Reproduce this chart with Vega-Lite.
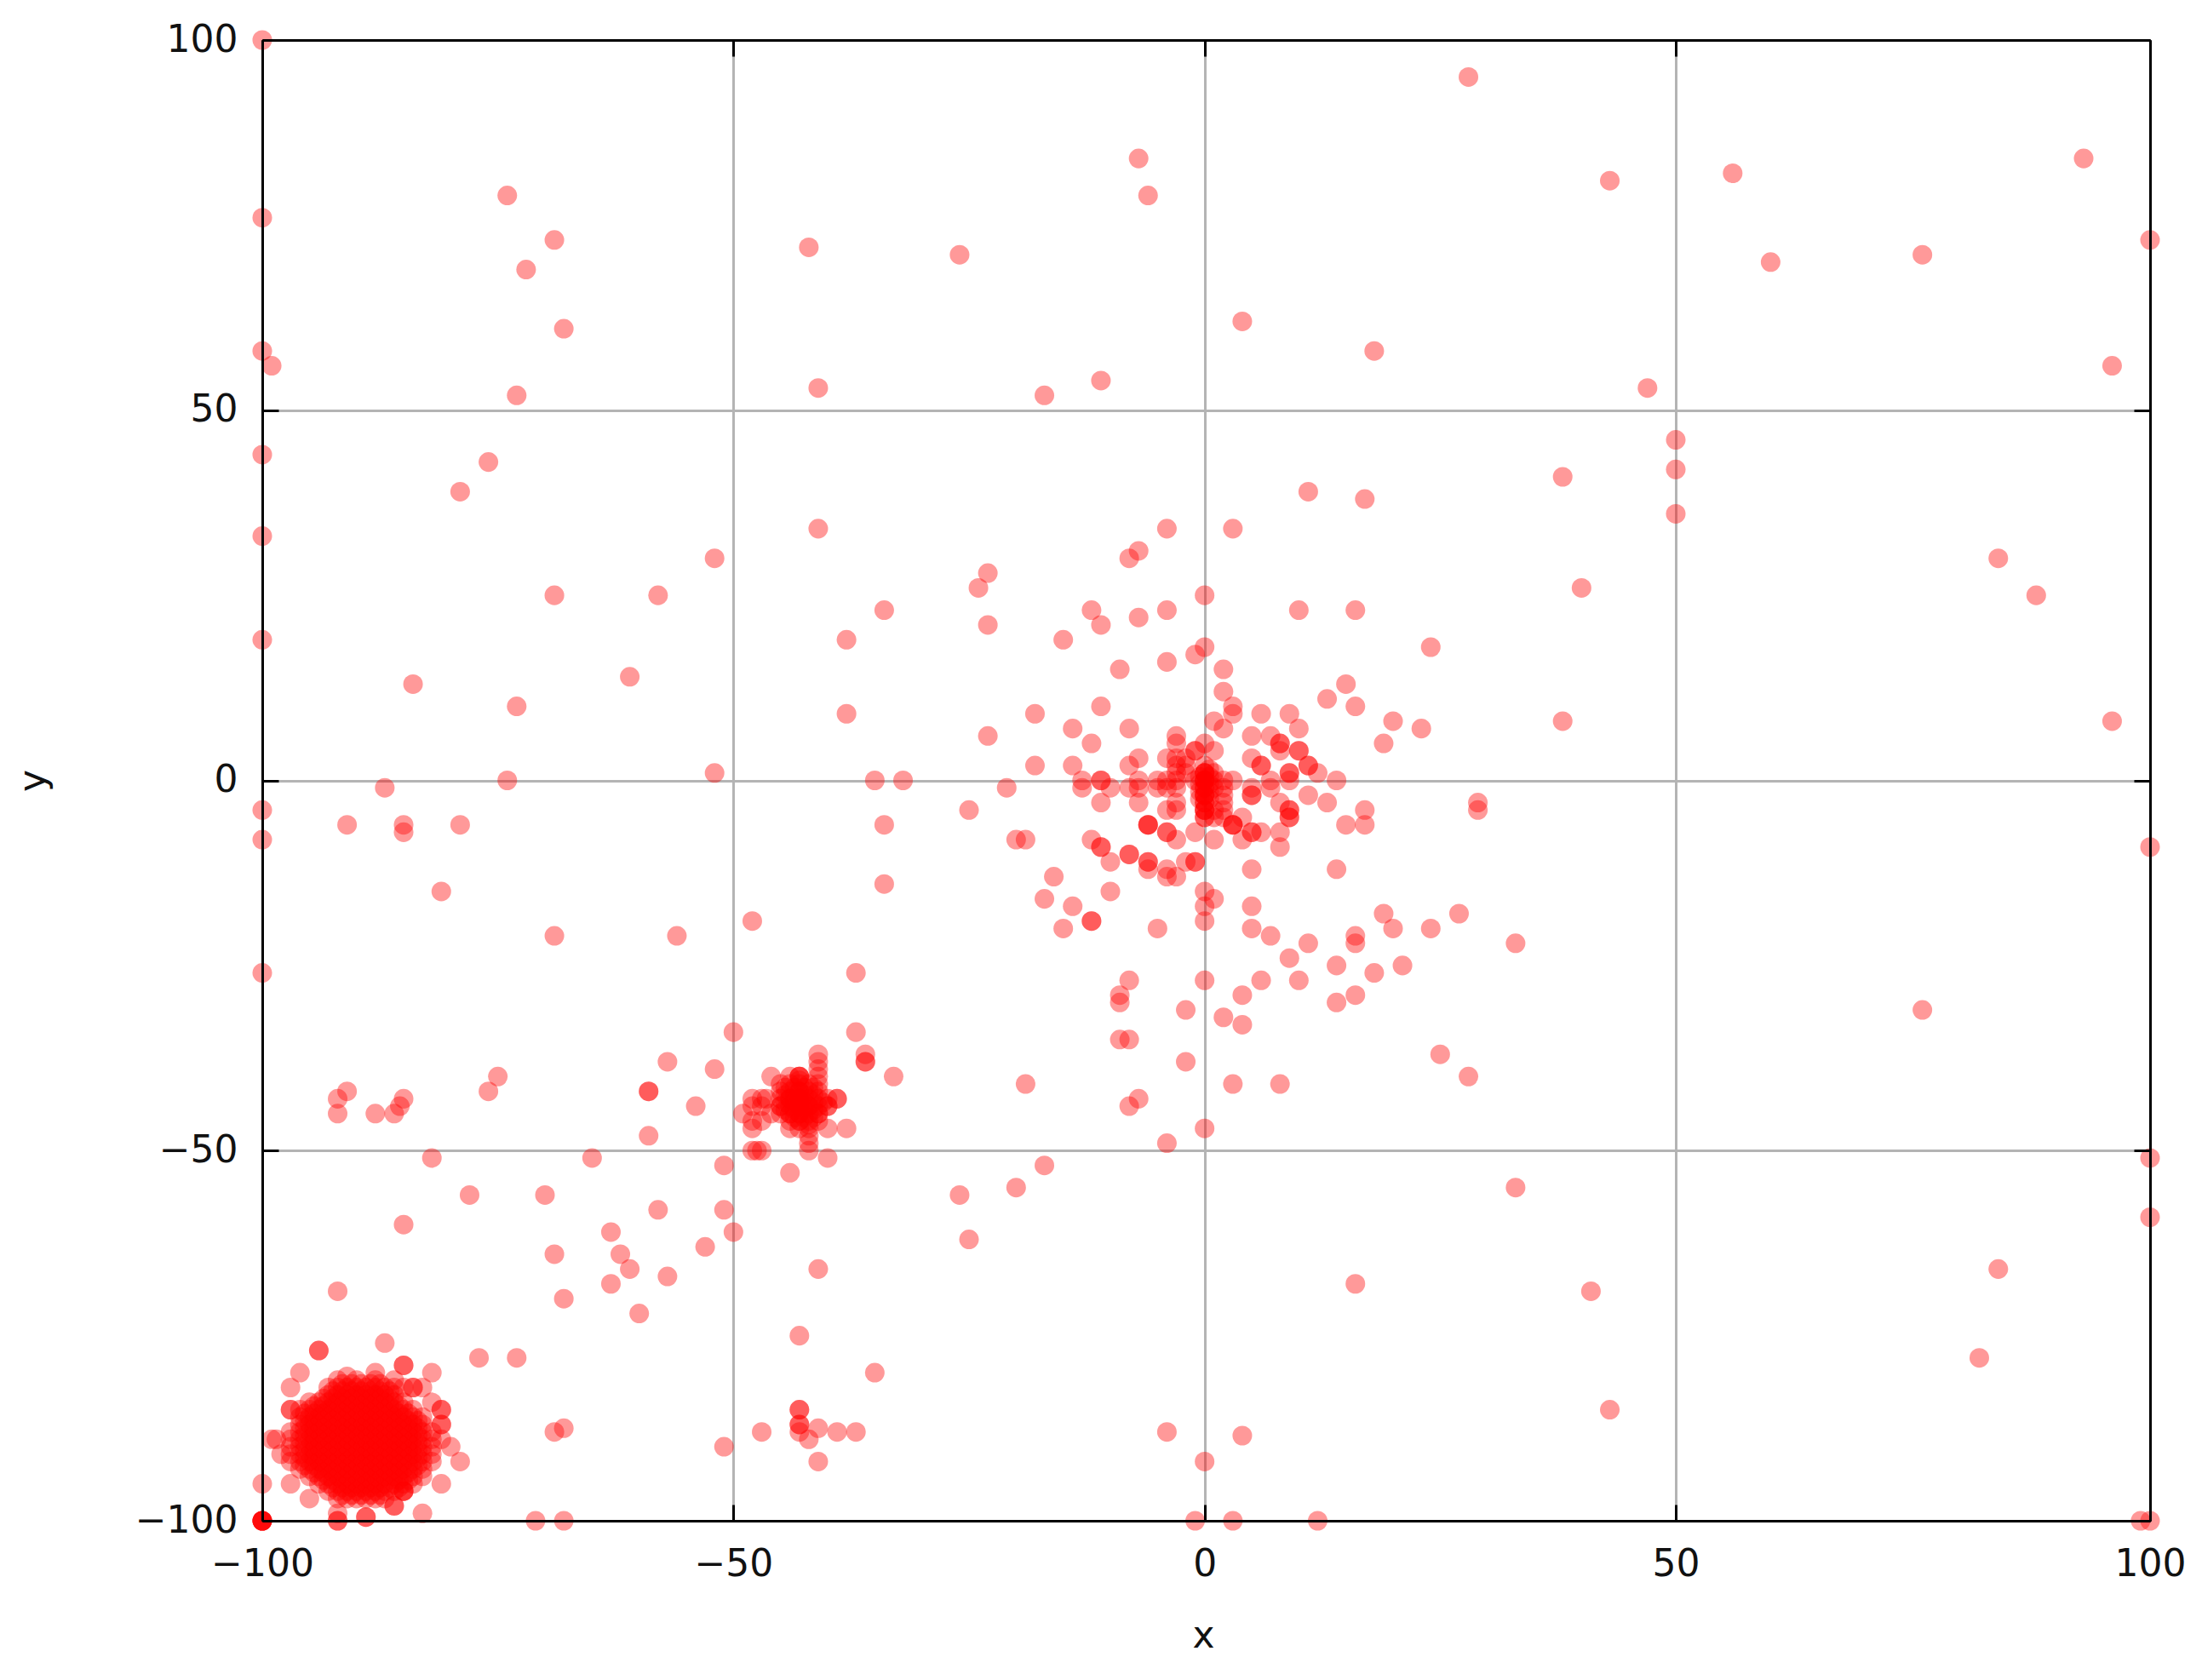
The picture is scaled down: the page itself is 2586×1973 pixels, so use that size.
{"$schema":"https://vega.github.io/schema/vega-lite/v6.json","autosize":{"type":"none"},"padding":{"left":308,"top":47,"right":61,"bottom":187},"width":2217,"height":1739,"background":"white","config":{"view":{"stroke":null},"axis":{"labelFont":"DejaVu Sans","titleFont":"DejaVu Sans","labelFontSize":44,"titleFontSize":44,"titleFontWeight":"normal","labelColor":"#111111","titleColor":"#111111"}},"datasets":{"pts":[
{"x":-100,"y":100},{"x":-100,"y":76},{"x":-100,"y":58},{"x":-99,"y":56},{"x":-100,"y":44},{"x":-100,"y":33},{"x":-100,"y":19},{"x":-100,"y":-4},{"x":-100,"y":-8},{"x":-100,"y":-26},{"x":-100,"y":-95},{"x":28,"y":95},{"x":-7,"y":84},{"x":-6,"y":79},{"x":43,"y":81},{"x":56,"y":82},{"x":93,"y":84},{"x":-74,"y":79},{"x":-69,"y":73},{"x":-72,"y":69},{"x":-42,"y":72},{"x":-26,"y":71},{"x":60,"y":70},{"x":76,"y":71},{"x":100,"y":73},{"x":-68,"y":61},{"x":4,"y":62},{"x":18,"y":58},{"x":96,"y":56},{"x":-73,"y":52},{"x":-41,"y":53},{"x":-17,"y":52},{"x":-11,"y":54},{"x":47,"y":53},{"x":50,"y":46},{"x":50,"y":42},{"x":50,"y":36},{"x":-76,"y":43},{"x":-79,"y":39},{"x":38,"y":41},{"x":11,"y":39},{"x":17,"y":38},{"x":-41,"y":34},{"x":-4,"y":34},{"x":3,"y":34},{"x":-8,"y":30},{"x":-7,"y":31},{"x":-52,"y":30},{"x":84,"y":30},{"x":88,"y":25},{"x":40,"y":26},{"x":-69,"y":25},{"x":-58,"y":25},{"x":-24,"y":26},{"x":-23,"y":28},{"x":0,"y":25},{"x":-12,"y":23},{"x":-11,"y":21},{"x":-7,"y":22},{"x":-4,"y":23},{"x":10,"y":23},{"x":16,"y":23},{"x":-34,"y":23},{"x":-23,"y":21},{"x":-38,"y":19},{"x":-15,"y":19},{"x":24,"y":18},{"x":-61,"y":14},{"x":-84,"y":13},{"x":-73,"y":10},{"x":-38,"y":9},{"x":38,"y":8},{"x":96,"y":8},
{"x":-9,"y":15},{"x":-4,"y":16},{"x":-1,"y":17},{"x":0,"y":18},{"x":2,"y":15},{"x":2,"y":12},{"x":3,"y":10},{"x":3,"y":9},{"x":1,"y":8},{"x":2,"y":7},{"x":-11,"y":10},{"x":6,"y":9},{"x":9,"y":9},{"x":5,"y":6},{"x":7,"y":6},{"x":8,"y":5},{"x":8,"y":5},{"x":8,"y":4},{"x":10,"y":7},{"x":10,"y":4},{"x":10,"y":4},{"x":11,"y":2},{"x":11,"y":2},{"x":12,"y":1},{"x":14,"y":0},{"x":13,"y":11},{"x":15,"y":13},{"x":16,"y":10},{"x":20,"y":8},{"x":19,"y":5},{"x":23,"y":7},{"x":-14,"y":7},{"x":-8,"y":7},{"x":-12,"y":5},{"x":-3,"y":6},{"x":-3,"y":5},{"x":-1,"y":4},{"x":-1,"y":4},{"x":0,"y":5},{"x":1,"y":4},{"x":5,"y":3},{"x":6,"y":2},{"x":6,"y":2},{"x":-14,"y":2},{"x":-7,"y":3},{"x":-8,"y":2},{"x":-4,"y":3},{"x":-3,"y":3},{"x":-3,"y":2},{"x":-2,"y":2},{"x":-13,"y":0},{"x":-11,"y":0},{"x":-11,"y":0},{"x":-10,"y":-1},{"x":-8,"y":-1},{"x":-7,"y":-1},{"x":-7,"y":0},{"x":-5,"y":0},{"x":-5,"y":-1},{"x":-4,"y":0},{"x":-3,"y":0},{"x":-3,"y":-1},{"x":0,"y":2},{"x":0,"y":1},{"x":0,"y":1},{"x":0,"y":0},{"x":0,"y":0},{"x":0,"y":0},{"x":0,"y":-1},{"x":0,"y":-1},{"x":0,"y":-2},{"x":0,"y":-2},{"x":0,"y":-3},{"x":0,"y":-4},{"x":0,"y":-4},{"x":1,"y":1},{"x":2,"y":0},{"x":2,"y":-1},{"x":3,"y":0},{"x":5,"y":-1},{"x":5,"y":-2},{"x":5,"y":-2},{"x":7,"y":0},{"x":7,"y":-1},{"x":9,"y":0},{"x":9,"y":1},{"x":9,"y":1},{"x":8,"y":-3},{"x":9,"y":-4},{"x":9,"y":-4},{"x":9,"y":-5},{"x":11,"y":-2},{"x":13,"y":-3},{"x":17,"y":-4},{"x":17,"y":-6},{"x":15,"y":-6},{"x":-11,"y":-3},{"x":-7,"y":-3},{"x":-3,"y":-3},{"x":-3,"y":-4},{"x":-4,"y":-4},{"x":-6,"y":-6},{"x":-6,"y":-6},{"x":-6,"y":-6},{"x":-4,"y":-7},{"x":-4,"y":-7},{"x":-3,"y":-8},{"x":-1,"y":-7},{"x":0,"y":-5},{"x":0,"y":-4},{"x":1,"y":-5},{"x":2,"y":-4},{"x":2,"y":-5},{"x":3,"y":-6},{"x":3,"y":-6},{"x":3,"y":-6},{"x":4,"y":-5},{"x":4,"y":-8},{"x":1,"y":-8},{"x":5,"y":-7},{"x":5,"y":-7},{"x":6,"y":-7},{"x":8,"y":-7},{"x":8,"y":-9},{"x":9,"y":-5},{"x":-12,"y":-8},{"x":-11,"y":-9},{"x":-11,"y":-9},{"x":-10,"y":-11},{"x":-8,"y":-10},{"x":-8,"y":-10},{"x":-6,"y":-11},{"x":-6,"y":-11},{"x":-6,"y":-12},{"x":-4,"y":-12},{"x":-3,"y":-13},{"x":-4,"y":-13},{"x":-2,"y":-11},{"x":-1,"y":-11},{"x":-1,"y":-11},{"x":5,"y":-12},{"x":14,"y":-12},{"x":-10,"y":-15},{"x":-14,"y":-17},{"x":-12,"y":-19},{"x":-12,"y":-19},{"x":-15,"y":-20},{"x":-5,"y":-20},{"x":0,"y":-15},{"x":1,"y":-16},{"x":0,"y":-17},{"x":0,"y":-19},{"x":5,"y":-17},{"x":5,"y":-20},{"x":7,"y":-21},{"x":16,"y":-21},{"x":16,"y":-22},{"x":19,"y":-18},{"x":20,"y":-20},{"x":24,"y":-20},{"x":11,"y":-22},
{"x":0.5,"y":1.5},{"x":-0.5,"y":0.5},{"x":0.5,"y":0.5},{"x":-0.5,"y":-0.5},{"x":0.5,"y":-0.5},{"x":-0.5,"y":-1.5},{"x":0.5,"y":-1.5},{"x":-0.5,"y":-2.5},{"x":0.5,"y":-2.5},{"x":0,"y":-3},{"x":0,"y":-5},{"x":0,"y":1},{"x":0,"y":-2},{"x":-3,"y":1},{"x":-2,"y":1},{"x":-4,"y":-1},{"x":1,"y":0},{"x":1,"y":-1},{"x":2,"y":-2},{"x":2,"y":-3},{"x":1,"y":-4},{"x":-2,"y":3},{"x":-1,"y":0},
{"x":-17,"y":-16},{"x":-16,"y":-13},{"x":-25,"y":-4},{"x":-23,"y":6},{"x":-21,"y":-1},{"x":-20,"y":-8},{"x":-19,"y":-8},{"x":-18,"y":9},{"x":-18,"y":2},{"x":-13,"y":-1},
{"x":27,"y":-18},{"x":33,"y":-22},{"x":21,"y":-25},{"x":18,"y":-26},{"x":14,"y":-25},{"x":16,"y":-29},{"x":14,"y":-30},{"x":10,"y":-27},{"x":9,"y":-24},{"x":6,"y":-27},{"x":4,"y":-29},{"x":4,"y":-33},{"x":2,"y":-32},{"x":0,"y":-27},{"x":-2,"y":-31},{"x":-8,"y":-27},{"x":-9,"y":-29},{"x":-9,"y":-30},{"x":-9,"y":-35},{"x":-8,"y":-35},{"x":-2,"y":-38},{"x":3,"y":-41},{"x":8,"y":-41},{"x":25,"y":-37},{"x":28,"y":-40},{"x":-7,"y":-43},{"x":-8,"y":-44},{"x":0,"y":-47},{"x":-4,"y":-49},{"x":-19,"y":-41},{"x":-17,"y":-52},{"x":-20,"y":-55},{"x":-26,"y":-56},{"x":-25,"y":-62},{"x":33,"y":-55},{"x":16,"y":-68},{"x":41,"y":-69},{"x":84,"y":-66},{"x":82,"y":-78},{"x":43,"y":-85},{"x":76,"y":-31},{"x":-4,"y":-88},{"x":4,"y":-88.5},{"x":0,"y":-92},{"x":-1,"y":-100},{"x":3,"y":-100},{"x":12,"y":-100},{"x":99,"y":-100},{"x":100,"y":-100},{"x":100,"y":-51},{"x":100,"y":-59},{"x":100,"y":-9},{"x":29,"y":-3},{"x":29,"y":-4},
{"x":-87,"y":-1},{"x":-91,"y":-6},{"x":-85,"y":-6},{"x":-85,"y":-7},{"x":-79,"y":-6},{"x":-81,"y":-15},{"x":-74,"y":0},{"x":-69,"y":-21},{"x":-52,"y":1},{"x":-35,"y":0},{"x":-32,"y":0},{"x":-34,"y":-6},{"x":-34,"y":-14},{"x":-56,"y":-21},{"x":-48,"y":-19},{"x":-37,"y":-26},{"x":-50,"y":-34},{"x":-37,"y":-34},{"x":-57,"y":-38},{"x":-52,"y":-39},{"x":-54,"y":-44},{"x":-59,"y":-42},{"x":-59,"y":-42},{"x":-59,"y":-48},{"x":-51,"y":-52},{"x":-51,"y":-58},{"x":-50,"y":-61},{"x":-53,"y":-63},{"x":-58,"y":-58},{"x":-57,"y":-67},{"x":-61,"y":-66},{"x":-62,"y":-64},{"x":-63,"y":-61},{"x":-63,"y":-68},{"x":-60,"y":-72},{"x":-65,"y":-51},{"x":-70,"y":-56},{"x":-78,"y":-56},{"x":-82,"y":-51},{"x":-85,"y":-60},{"x":-69,"y":-64},{"x":-68,"y":-70},{"x":-75,"y":-40},{"x":-76,"y":-42},{"x":-92,"y":-43},{"x":-91,"y":-42},{"x":-92,"y":-45},{"x":-88,"y":-45},{"x":-86,"y":-45},{"x":-85.4,"y":-44},{"x":-85,"y":-43},{"x":-92,"y":-69},{"x":-87,"y":-76},{"x":-94,"y":-77},{"x":-94,"y":-77},{"x":-77,"y":-78},{"x":-73,"y":-78},{"x":-68,"y":-87.5},{"x":-69,"y":-88},{"x":-51,"y":-90},{"x":-47,"y":-88},{"x":-41,"y":-66},{"x":-43,"y":-75},{"x":-35,"y":-80},{"x":-37,"y":-88},{"x":-39,"y":-88},{"x":-41,"y":-87.5},{"x":-42,"y":-89},{"x":-41,"y":-92},{"x":-43,"y":-85},{"x":-43,"y":-85},{"x":-43,"y":-87},{"x":-43,"y":-87},{"x":-43,"y":-88},{"x":-71,"y":-100},{"x":-68,"y":-100},
{"x":-36,"y":-37},{"x":-36,"y":-38},{"x":-36,"y":-38},{"x":-33,"y":-40},{"x":-38,"y":-47},{"x":-41,"y":-37},{"x":-41,"y":-38},{"x":-41,"y":-39},{"x":-41,"y":-40},{"x":-46,"y":-40},{"x":-44,"y":-40},{"x":-43,"y":-40},{"x":-43,"y":-40},{"x":-43,"y":-40},{"x":-48,"y":-43},{"x":-47,"y":-43},{"x":-46.5,"y":-43},{"x":-48,"y":-44},{"x":-47,"y":-44},{"x":-49,"y":-45},{"x":-48,"y":-46},{"x":-47,"y":-46},{"x":-48,"y":-47},{"x":-46,"y":-45},{"x":-39,"y":-43},{"x":-39,"y":-43},{"x":-40,"y":-44},{"x":-40,"y":-47},{"x":-44,"y":-47},{"x":-42,"y":-47},{"x":-42,"y":-48},{"x":-42,"y":-49},{"x":-42,"y":-50},{"x":-48,"y":-50},{"x":-47.5,"y":-50},{"x":-47,"y":-50},{"x":-40,"y":-51},{"x":-44,"y":-53},
{"x":-45,"y":-41},{"x":-44,"y":-41},{"x":-43,"y":-41},{"x":-42,"y":-41},{"x":-41,"y":-41},{"x":-45,"y":-42},{"x":-44,"y":-42},{"x":-43,"y":-42},{"x":-43,"y":-42},{"x":-42,"y":-42},{"x":-41,"y":-42},{"x":-45,"y":-43},{"x":-44,"y":-43},{"x":-44,"y":-43},{"x":-43,"y":-43},{"x":-43,"y":-43},{"x":-42,"y":-43},{"x":-41,"y":-43},{"x":-40,"y":-43},{"x":-45,"y":-44},{"x":-45,"y":-44},{"x":-44,"y":-44},{"x":-43,"y":-44},{"x":-43,"y":-44},{"x":-42,"y":-44},{"x":-42,"y":-44},{"x":-41,"y":-44},{"x":-40,"y":-44},{"x":-45,"y":-45},{"x":-44,"y":-45},{"x":-44,"y":-45},{"x":-43,"y":-45},{"x":-43,"y":-45},{"x":-42,"y":-45},{"x":-41,"y":-45},{"x":-41,"y":-45},{"x":-44,"y":-46},{"x":-43,"y":-46},{"x":-43,"y":-46},{"x":-42,"y":-46},{"x":-41,"y":-46},
{"x":-44.5,"y":-41.5},{"x":-43.5,"y":-41.5},{"x":-42.5,"y":-41.5},{"x":-41.5,"y":-41.5},{"x":-44.5,"y":-42.5},{"x":-43.5,"y":-42.5},{"x":-42.5,"y":-42.5},{"x":-41.5,"y":-42.5},{"x":-44.5,"y":-43.5},{"x":-43.5,"y":-43.5},{"x":-42.5,"y":-43.5},{"x":-41.5,"y":-43.5},{"x":-40.5,"y":-43.5},{"x":-44.5,"y":-44.5},{"x":-43.5,"y":-44.5},{"x":-42.5,"y":-44.5},{"x":-41.5,"y":-44.5},{"x":-43.5,"y":-45.5},{"x":-42.5,"y":-45.5},{"x":-41.5,"y":-45.5},{"x":-43,"y":-47},{"x":-42,"y":-46.5},{"x":-43,"y":-40.5},
{"x":-85,"y":-79},{"x":-85,"y":-79},{"x":-96,"y":-80},{"x":-97,"y":-82},{"x":-91,"y":-80.5},{"x":-88,"y":-80},{"x":-82,"y":-80},{"x":-84,"y":-82},{"x":-84,"y":-82},{"x":-85,"y":-82},{"x":-83,"y":-82},{"x":-81,"y":-85},{"x":-81,"y":-85},{"x":-82,"y":-84},{"x":-81,"y":-87},{"x":-81,"y":-87},{"x":-81,"y":-89},{"x":-80,"y":-90},{"x":-79,"y":-92},{"x":-81,"y":-95},{"x":-83,"y":-99},{"x":-97,"y":-85},{"x":-97,"y":-85},{"x":-99,"y":-89},{"x":-98.5,"y":-89},{"x":-98,"y":-91},{"x":-97,"y":-95},{"x":-95,"y":-97},{"x":-100,"y":-100},{"x":-100,"y":-100},{"x":-100,"y":-100},{"x":-100,"y":-100},{"x":-100,"y":-100},{"x":-100,"y":-100},{"x":-92,"y":-100},{"x":-92,"y":-100},{"x":-92,"y":-99},{"x":-89,"y":-99.5},{"x":-89,"y":-99.5},{"x":-86,"y":-98},{"x":-86,"y":-98},{"x":-85,"y":-96},{"x":-85,"y":-96},
{"x":-92,"y":-81},{"x":-90,"y":-81},{"x":-88,"y":-81},{"x":-86,"y":-81},
{"x":-93,"y":-82},{"x":-92,"y":-82},{"x":-91,"y":-82},{"x":-90,"y":-82},{"x":-89,"y":-82},{"x":-88,"y":-82},{"x":-87,"y":-82},{"x":-86,"y":-82},
{"x":-93,"y":-83},{"x":-92,"y":-83},{"x":-91,"y":-83},{"x":-90,"y":-83},{"x":-89,"y":-83},{"x":-88,"y":-83},{"x":-87,"y":-83},{"x":-86,"y":-83},
{"x":-95,"y":-84},{"x":-94,"y":-84},{"x":-93,"y":-84},{"x":-92,"y":-84},{"x":-91,"y":-84},{"x":-90,"y":-84},{"x":-89,"y":-84},{"x":-88,"y":-84},{"x":-87,"y":-84},{"x":-86,"y":-84},{"x":-85,"y":-84},
{"x":-96,"y":-85},{"x":-95,"y":-85},{"x":-94,"y":-85},{"x":-93,"y":-85},{"x":-92,"y":-85},{"x":-91,"y":-85},{"x":-90,"y":-85},{"x":-89,"y":-85},{"x":-88,"y":-85},{"x":-87,"y":-85},{"x":-86,"y":-85},{"x":-85,"y":-85},{"x":-84,"y":-85},
{"x":-96,"y":-86},{"x":-95,"y":-86},{"x":-94,"y":-86},{"x":-93,"y":-86},{"x":-92,"y":-86},{"x":-91,"y":-86},{"x":-90,"y":-86},{"x":-89,"y":-86},{"x":-88,"y":-86},{"x":-87,"y":-86},{"x":-86,"y":-86},{"x":-85,"y":-86},{"x":-84,"y":-86},{"x":-83,"y":-86},
{"x":-96,"y":-87},{"x":-95,"y":-87},{"x":-94,"y":-87},{"x":-93,"y":-87},{"x":-92,"y":-87},{"x":-91,"y":-87},{"x":-90,"y":-87},{"x":-89,"y":-87},{"x":-88,"y":-87},{"x":-87,"y":-87},{"x":-86,"y":-87},{"x":-85,"y":-87},{"x":-84,"y":-87},{"x":-83,"y":-87},
{"x":-97,"y":-88},{"x":-96,"y":-88},{"x":-95,"y":-88},{"x":-94,"y":-88},{"x":-93,"y":-88},{"x":-92,"y":-88},{"x":-91,"y":-88},{"x":-90,"y":-88},{"x":-89,"y":-88},{"x":-88,"y":-88},{"x":-87,"y":-88},{"x":-86,"y":-88},{"x":-85,"y":-88},{"x":-84,"y":-88},{"x":-83,"y":-88},{"x":-82,"y":-88},
{"x":-97,"y":-89},{"x":-96,"y":-89},{"x":-95,"y":-89},{"x":-94,"y":-89},{"x":-93,"y":-89},{"x":-92,"y":-89},{"x":-91,"y":-89},{"x":-90,"y":-89},{"x":-89,"y":-89},{"x":-88,"y":-89},{"x":-87,"y":-89},{"x":-86,"y":-89},{"x":-85,"y":-89},{"x":-84,"y":-89},{"x":-83,"y":-89},{"x":-82,"y":-89},
{"x":-97,"y":-90},{"x":-96,"y":-90},{"x":-95,"y":-90},{"x":-94,"y":-90},{"x":-93,"y":-90},{"x":-92,"y":-90},{"x":-91,"y":-90},{"x":-90,"y":-90},{"x":-89,"y":-90},{"x":-88,"y":-90},{"x":-87,"y":-90},{"x":-86,"y":-90},{"x":-85,"y":-90},{"x":-84,"y":-90},{"x":-83,"y":-90},{"x":-82,"y":-90},
{"x":-97,"y":-91},{"x":-96,"y":-91},{"x":-95,"y":-91},{"x":-94,"y":-91},{"x":-93,"y":-91},{"x":-92,"y":-91},{"x":-91,"y":-91},{"x":-90,"y":-91},{"x":-89,"y":-91},{"x":-88,"y":-91},{"x":-87,"y":-91},{"x":-86,"y":-91},{"x":-85,"y":-91},{"x":-84,"y":-91},{"x":-83,"y":-91},{"x":-82,"y":-91},
{"x":-97,"y":-92},{"x":-96,"y":-92},{"x":-95,"y":-92},{"x":-94,"y":-92},{"x":-93,"y":-92},{"x":-92,"y":-92},{"x":-91,"y":-92},{"x":-90,"y":-92},{"x":-89,"y":-92},{"x":-88,"y":-92},{"x":-87,"y":-92},{"x":-86,"y":-92},{"x":-85,"y":-92},{"x":-84,"y":-92},{"x":-83,"y":-92},{"x":-82,"y":-92},
{"x":-96,"y":-93},{"x":-95,"y":-93},{"x":-94,"y":-93},{"x":-93,"y":-93},{"x":-92,"y":-93},{"x":-91,"y":-93},{"x":-90,"y":-93},{"x":-89,"y":-93},{"x":-88,"y":-93},{"x":-87,"y":-93},{"x":-86,"y":-93},{"x":-85,"y":-93},{"x":-84,"y":-93},{"x":-83,"y":-93},
{"x":-95,"y":-94},{"x":-94,"y":-94},{"x":-93,"y":-94},{"x":-92,"y":-94},{"x":-91,"y":-94},{"x":-90,"y":-94},{"x":-89,"y":-94},{"x":-88,"y":-94},{"x":-87,"y":-94},{"x":-86,"y":-94},{"x":-85,"y":-94},{"x":-84,"y":-94},{"x":-83,"y":-94},
{"x":-94,"y":-95},{"x":-93,"y":-95},{"x":-92,"y":-95},{"x":-91,"y":-95},{"x":-90,"y":-95},{"x":-89,"y":-95},{"x":-88,"y":-95},{"x":-87,"y":-95},{"x":-86,"y":-95},{"x":-85,"y":-95},{"x":-84,"y":-95},
{"x":-93,"y":-96},{"x":-92,"y":-96},{"x":-91,"y":-96},{"x":-90,"y":-96},{"x":-89,"y":-96},{"x":-88,"y":-96},{"x":-87,"y":-96},{"x":-86,"y":-96},{"x":-85,"y":-96},
{"x":-92,"y":-97},{"x":-91,"y":-97},{"x":-90,"y":-97},{"x":-89,"y":-97},{"x":-88,"y":-97},{"x":-87,"y":-97},
{"x":-91.5,"y":-81.5},{"x":-90.5,"y":-81.5},{"x":-89.5,"y":-81.5},{"x":-88.5,"y":-81.5},{"x":-87.5,"y":-81.5},
{"x":-92.5,"y":-82.5},{"x":-91.5,"y":-82.5},{"x":-90.5,"y":-82.5},{"x":-89.5,"y":-82.5},{"x":-88.5,"y":-82.5},{"x":-87.5,"y":-82.5},{"x":-86.5,"y":-82.5},
{"x":-93.5,"y":-83.5},{"x":-92.5,"y":-83.5},{"x":-91.5,"y":-83.5},{"x":-90.5,"y":-83.5},{"x":-89.5,"y":-83.5},{"x":-88.5,"y":-83.5},{"x":-87.5,"y":-83.5},{"x":-86.5,"y":-83.5},
{"x":-94.5,"y":-84.5},{"x":-93.5,"y":-84.5},{"x":-92.5,"y":-84.5},{"x":-91.5,"y":-84.5},{"x":-90.5,"y":-84.5},{"x":-89.5,"y":-84.5},{"x":-88.5,"y":-84.5},{"x":-87.5,"y":-84.5},{"x":-86.5,"y":-84.5},{"x":-85.5,"y":-84.5},
{"x":-95.5,"y":-85.5},{"x":-94.5,"y":-85.5},{"x":-93.5,"y":-85.5},{"x":-92.5,"y":-85.5},{"x":-91.5,"y":-85.5},{"x":-90.5,"y":-85.5},{"x":-89.5,"y":-85.5},{"x":-88.5,"y":-85.5},{"x":-87.5,"y":-85.5},{"x":-86.5,"y":-85.5},{"x":-85.5,"y":-85.5},{"x":-84.5,"y":-85.5},
{"x":-95.5,"y":-86.5},{"x":-94.5,"y":-86.5},{"x":-93.5,"y":-86.5},{"x":-92.5,"y":-86.5},{"x":-91.5,"y":-86.5},{"x":-90.5,"y":-86.5},{"x":-89.5,"y":-86.5},{"x":-88.5,"y":-86.5},{"x":-87.5,"y":-86.5},{"x":-86.5,"y":-86.5},{"x":-85.5,"y":-86.5},{"x":-84.5,"y":-86.5},{"x":-83.5,"y":-86.5},
{"x":-95.5,"y":-87.5},{"x":-94.5,"y":-87.5},{"x":-93.5,"y":-87.5},{"x":-92.5,"y":-87.5},{"x":-91.5,"y":-87.5},{"x":-90.5,"y":-87.5},{"x":-89.5,"y":-87.5},{"x":-88.5,"y":-87.5},{"x":-87.5,"y":-87.5},{"x":-86.5,"y":-87.5},{"x":-85.5,"y":-87.5},{"x":-84.5,"y":-87.5},{"x":-83.5,"y":-87.5},
{"x":-95.5,"y":-88.5},{"x":-94.5,"y":-88.5},{"x":-93.5,"y":-88.5},{"x":-92.5,"y":-88.5},{"x":-91.5,"y":-88.5},{"x":-90.5,"y":-88.5},{"x":-89.5,"y":-88.5},{"x":-88.5,"y":-88.5},{"x":-87.5,"y":-88.5},{"x":-86.5,"y":-88.5},{"x":-85.5,"y":-88.5},{"x":-84.5,"y":-88.5},{"x":-83.5,"y":-88.5},
{"x":-95.5,"y":-89.5},{"x":-94.5,"y":-89.5},{"x":-93.5,"y":-89.5},{"x":-92.5,"y":-89.5},{"x":-91.5,"y":-89.5},{"x":-90.5,"y":-89.5},{"x":-89.5,"y":-89.5},{"x":-88.5,"y":-89.5},{"x":-87.5,"y":-89.5},{"x":-86.5,"y":-89.5},{"x":-85.5,"y":-89.5},{"x":-84.5,"y":-89.5},{"x":-83.5,"y":-89.5},
{"x":-95.5,"y":-90.5},{"x":-94.5,"y":-90.5},{"x":-93.5,"y":-90.5},{"x":-92.5,"y":-90.5},{"x":-91.5,"y":-90.5},{"x":-90.5,"y":-90.5},{"x":-89.5,"y":-90.5},{"x":-88.5,"y":-90.5},{"x":-87.5,"y":-90.5},{"x":-86.5,"y":-90.5},{"x":-85.5,"y":-90.5},{"x":-84.5,"y":-90.5},{"x":-83.5,"y":-90.5},
{"x":-95.5,"y":-91.5},{"x":-94.5,"y":-91.5},{"x":-93.5,"y":-91.5},{"x":-92.5,"y":-91.5},{"x":-91.5,"y":-91.5},{"x":-90.5,"y":-91.5},{"x":-89.5,"y":-91.5},{"x":-88.5,"y":-91.5},{"x":-87.5,"y":-91.5},{"x":-86.5,"y":-91.5},{"x":-85.5,"y":-91.5},{"x":-84.5,"y":-91.5},{"x":-83.5,"y":-91.5},
{"x":-95.5,"y":-92.5},{"x":-94.5,"y":-92.5},{"x":-93.5,"y":-92.5},{"x":-92.5,"y":-92.5},{"x":-91.5,"y":-92.5},{"x":-90.5,"y":-92.5},{"x":-89.5,"y":-92.5},{"x":-88.5,"y":-92.5},{"x":-87.5,"y":-92.5},{"x":-86.5,"y":-92.5},{"x":-85.5,"y":-92.5},{"x":-84.5,"y":-92.5},{"x":-83.5,"y":-92.5},
{"x":-94.5,"y":-93.5},{"x":-93.5,"y":-93.5},{"x":-92.5,"y":-93.5},{"x":-91.5,"y":-93.5},{"x":-90.5,"y":-93.5},{"x":-89.5,"y":-93.5},{"x":-88.5,"y":-93.5},{"x":-87.5,"y":-93.5},{"x":-86.5,"y":-93.5},{"x":-85.5,"y":-93.5},{"x":-84.5,"y":-93.5},
{"x":-93.5,"y":-94.5},{"x":-92.5,"y":-94.5},{"x":-91.5,"y":-94.5},{"x":-90.5,"y":-94.5},{"x":-89.5,"y":-94.5},{"x":-88.5,"y":-94.5},{"x":-87.5,"y":-94.5},{"x":-86.5,"y":-94.5},{"x":-85.5,"y":-94.5},{"x":-84.5,"y":-94.5},
{"x":-92.5,"y":-95.5},{"x":-91.5,"y":-95.5},{"x":-90.5,"y":-95.5},{"x":-89.5,"y":-95.5},{"x":-88.5,"y":-95.5},{"x":-87.5,"y":-95.5},{"x":-86.5,"y":-95.5},{"x":-85.5,"y":-95.5},
{"x":-91.5,"y":-96.5},{"x":-90.5,"y":-96.5},{"x":-89.5,"y":-96.5},{"x":-88.5,"y":-96.5},{"x":-87.5,"y":-96.5}
]},"layer":[
{"data":{"values":[]},"mark":{"type":"point","opacity":0},"encoding":{"x":{"field":"x","type":"quantitative","scale":{"domain":[-100,50,100],"range":[0,1660,2217],"nice":false,"zero":false},"axis":{"orient":"bottom","values":[-100,-50,0,50,100],"grid":true,"gridColor":"#b4b4b4","gridWidth":3,"labels":false,"ticks":false,"domain":false,"title":null,"zindex":0}},"y":{"field":"y","type":"quantitative","scale":{"domain":[-100,100],"nice":false,"zero":false},"axis":{"orient":"left","values":[-100,-50,0,50,100],"grid":true,"gridColor":"#b4b4b4","gridWidth":3,"labels":false,"ticks":false,"domain":false,"title":null,"zindex":0}}}},
{"data":{"name":"pts"},"mark":{"type":"circle","color":"#ff0000","opacity":0.4,"size":530,"clip":false},"encoding":{"x":{"field":"x","type":"quantitative","scale":{"domain":[-100,50,100],"range":[0,1660,2217],"nice":false,"zero":false},"axis":{"orient":"bottom","values":[-100,-50,0,50,100],"grid":false,"domainColor":"#000000","domainWidth":3,"tickColor":"#000000","tickWidth":3,"tickSize":-19,"labelPadding":48,"labelFlush":false,"labelOverlap":false,"title":"x","titleX":1105,"titlePadding":40,"zindex":1}},"y":{"field":"y","type":"quantitative","scale":{"domain":[-100,100],"nice":false,"zero":false},"axis":{"orient":"left","values":[-100,-50,0,50,100],"grid":false,"domainColor":"#000000","domainWidth":3,"tickColor":"#000000","tickWidth":3,"tickSize":-19,"labelPadding":48,"labelFlush":false,"labelOverlap":false,"title":"y","titlePadding":97,"zindex":1}}}},
{"data":{"values":[]},"mark":{"type":"point","opacity":0},"encoding":{"x":{"field":"x","type":"quantitative","scale":{"domain":[-100,50,100],"range":[0,1660,2217],"nice":false,"zero":false},"axis":{"orient":"top","values":[-100,-50,0,50,100],"grid":false,"domainColor":"#000000","domainWidth":3,"tickColor":"#000000","tickWidth":3,"tickSize":-19,"labels":false,"title":null,"zindex":1}},"y":{"field":"y","type":"quantitative","scale":{"domain":[-100,100],"nice":false,"zero":false},"axis":{"orient":"right","values":[-100,-50,0,50,100],"grid":false,"domainColor":"#000000","domainWidth":3,"tickColor":"#000000","tickWidth":3,"tickSize":-19,"labels":false,"title":null,"zindex":1}}}}
],"resolve":{"axis":{"x":"independent","y":"independent"}}}
